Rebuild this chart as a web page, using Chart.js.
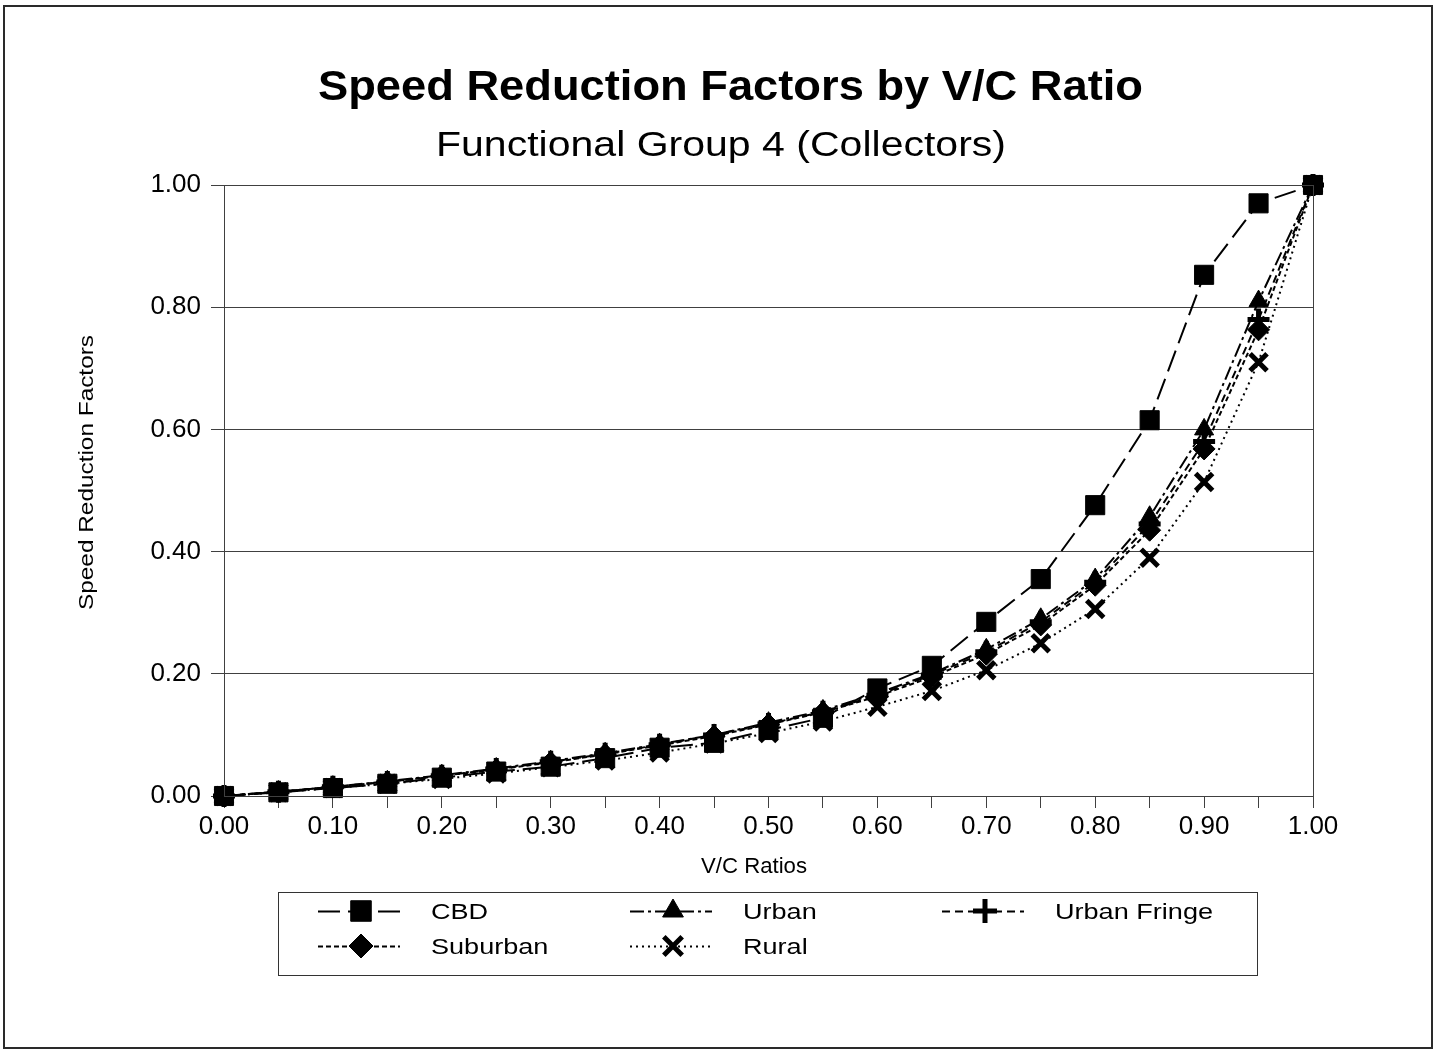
<!DOCTYPE html>
<html>
<head>
<meta charset="utf-8">
<script src="https://cdn.jsdelivr.net/npm/chart.js@4/dist/chart.umd.min.js"></script>
<style>
  html, body { margin: 0; padding: 0; background: #fff; }
  #wrap { width: 1435px; height: 1051px; position: relative; }
</style>
</head>
<body>
<div id="wrap"><canvas id="c" width="1435" height="1051"></canvas></div>
<script>
// ---- data ----
const vcRatios = [0.00, 0.05, 0.10, 0.15, 0.20, 0.25, 0.30, 0.35, 0.40, 0.45, 0.50,
                  0.55, 0.60, 0.65, 0.70, 0.75, 0.80, 0.85, 0.90, 0.95, 1.00];
const cbd         = [0, 0.006, 0.013, 0.020, 0.030, 0.040, 0.048, 0.062, 0.079, 0.087, 0.108,
                     0.128, 0.176, 0.213, 0.285, 0.355, 0.476, 0.615, 0.853, 0.970, 1.000];
const urban       = [0, 0.007, 0.015, 0.024, 0.034, 0.045, 0.057, 0.070, 0.085, 0.100, 0.120,
                     0.140, 0.168, 0.200, 0.240, 0.290, 0.355, 0.457, 0.600, 0.810, 1.000];
const urbanFringe = [0, 0.007, 0.015, 0.023, 0.033, 0.044, 0.056, 0.069, 0.084, 0.100, 0.118,
                     0.138, 0.165, 0.198, 0.236, 0.285, 0.350, 0.445, 0.580, 0.780, 1.000];
const suburban    = [0, 0.007, 0.015, 0.023, 0.033, 0.043, 0.055, 0.068, 0.083, 0.098, 0.117,
                     0.137, 0.163, 0.195, 0.232, 0.280, 0.345, 0.435, 0.568, 0.763, 1.000];
const rural       = [0, 0.006, 0.013, 0.020, 0.028, 0.037, 0.047, 0.058, 0.071, 0.086, 0.103,
                     0.122, 0.146, 0.172, 0.206, 0.250, 0.306, 0.390, 0.514, 0.710, 1.000];
const seriesNames = ['CBD', 'Urban', 'Urban Fringe', 'Suburban', 'Rural'];
const xTickLabels = ['0.00', '0.10', '0.20', '0.30', '0.40', '0.50', '0.60', '0.70', '0.80', '0.90', '1.00'];
const yTickLabels = ['0.00', '0.20', '0.40', '0.60', '0.80', '1.00'];
const titleText = 'Speed Reduction Factors by V/C Ratio';
const subtitleText = 'Functional Group 4 (Collectors)';
const xTitleText = 'V/C Ratios';
const yTitleText = 'Speed Reduction Factors';

// ---- styling ----
const FONT = '"Liberation Sans", Arial, sans-serif';
const styles = [
  { dash: [22, 8],        pointStyle: 'rect',     radius: 13.5, pbw: 1 },
  { dash: [14, 4, 3, 4],  pointStyle: 'triangle', radius: 11,   pbw: 1 },
  { dash: [8, 5],         pointStyle: 'cross',    radius: 11,   pbw: 5 },
  { dash: [5, 3],         pointStyle: 'rectRot',  radius: 11,   pbw: 1 },
  { dash: [2, 4],         pointStyle: 'crossRot', radius: 12,   pbw: 5 }
];
const allSeries = [cbd, urban, urbanFringe, suburban, rural];

const datasets = allSeries.map((vals, i) => ({
  label: seriesNames[i],
  data: vals.map((v, j) => ({ x: vcRatios[j], y: v })),
  borderColor: '#000',
  backgroundColor: '#000',
  borderWidth: 2,
  borderDash: styles[i].dash,
  pointStyle: styles[i].pointStyle,
  pointRadius: styles[i].radius,
  pointBorderWidth: styles[i].pbw,
  pointBackgroundColor: '#000',
  pointBorderColor: '#000',
  tension: 0,
  clip: false
}));

// draw text stretched horizontally to span targetW
function stretchText(ctx, text, x, y, font, targetW) {
  ctx.save();
  ctx.font = font;
  ctx.letterSpacing = '0px';
  const w = ctx.measureText(text).width;
  const sx = targetW / w;
  ctx.translate(x, y);
  ctx.scale(sx, 1);
  ctx.textAlign = 'left';
  ctx.textBaseline = 'alphabetic';
  ctx.fillText(text, 0, 0);
  ctx.restore();
}

const decorPlugin = {
  id: 'decor',
  beforeDraw(chart) {
    const ctx = chart.ctx;
    ctx.save();
    ctx.fillStyle = '#fff';
    ctx.fillRect(0, 0, chart.width, chart.height);
    ctx.restore();
  },
  afterDraw(chart) {
    const ctx = chart.ctx;
    const a = chart.chartArea;
    ctx.save();
    // plot-area frame
    ctx.strokeStyle = '#404040';
    ctx.lineWidth = 1;
    ctx.strokeRect(Math.round(a.left) + 0.5, Math.round(a.top) + 0.5,
                   Math.round(a.right - a.left), Math.round(a.bottom - a.top));
    // outer border
    ctx.strokeStyle = '#2a2a2a';
    ctx.lineWidth = 2;
    ctx.strokeRect(4, 6, 1428, 1042);

    ctx.fillStyle = '#000';
    // titles
    stretchText(ctx, titleText, 318, 100, 'bold 42px ' + FONT, 825);
    stretchText(ctx, subtitleText, 436, 156, '35px ' + FONT, 570);
    // axis titles
    stretchText(ctx, xTitleText, 701, 873, '22px ' + FONT, 106);
    ctx.save();
    ctx.translate(93, 610);
    ctx.rotate(-Math.PI / 2);
    stretchText(ctx, yTitleText, 0, 0, '20px ' + FONT, 275);
    ctx.restore();

    // legend box
    ctx.strokeStyle = '#333';
    ctx.lineWidth = 1;
    ctx.strokeRect(278.5, 892.5, 979, 83);
    const cols = [318, 630, 942];
    const rows = [911, 946];
    const legendFont = '22px ' + FONT;
    ctx.font = legendFont;
    ctx.letterSpacing = '0px';
    const refW = ctx.measureText('Urban Fringe').width;
    const sx = 158 / refW;
    for (let i = 0; i < seriesNames.length; i++) {
      const cx = cols[i % 3];
      const cy = rows[Math.floor(i / 3)];
      const st = styles[i];
      ctx.save();
      ctx.strokeStyle = '#000';
      ctx.lineWidth = 2;
      ctx.setLineDash(st.dash);
      ctx.beginPath();
      ctx.moveTo(cx, cy + 0.5);
      ctx.lineTo(cx + 82, cy + 0.5);
      ctx.stroke();
      ctx.setLineDash([]);
      ctx.fillStyle = '#000';
      ctx.lineWidth = st.pbw;
      Chart.helpers.drawPoint(ctx, {
        pointStyle: st.pointStyle, radius: st.radius + 1, rotation: 0, borderWidth: st.pbw
      }, cx + 43, cy);
      ctx.restore();
      ctx.save();
      ctx.fillStyle = '#000';
      ctx.font = legendFont;
      ctx.translate(cx + 113, cy + 8);
      ctx.scale(sx, 1);
      ctx.textAlign = 'left';
      ctx.textBaseline = 'alphabetic';
      ctx.fillText(seriesNames[i], 0, 0);
      ctx.restore();
    }
    ctx.restore();
  }
};

new Chart(document.getElementById('c'), {
  type: 'line',
  data: { datasets },
  plugins: [decorPlugin],
  options: {
    responsive: false,
    animation: false,
    events: [],
    layout: { padding: { left: 0, top: 185, right: 122, bottom: 0 } },
    plugins: { legend: { display: false }, title: { display: false }, tooltip: { enabled: false } },
    scales: {
      x: {
        type: 'linear',
        min: 0, max: 1,
        afterFit(s) { s.height = 255; },
        ticks: {
          stepSize: 0.05,
          autoSkip: false,
          maxRotation: 0,
          padding: 3,
          color: '#000',
          font: { family: FONT, size: 26 },
          callback: (v, i) => (i % 2 === 0 ? xTickLabels[i / 2] : '')
        },
        grid: { display: true, drawOnChartArea: false, drawTicks: true, tickLength: 12, color: '#404040', lineWidth: 1 },
        border: { display: true, color: '#404040', width: 1 }
      },
      y: {
        type: 'linear',
        min: 0, max: 1,
        afterFit(s) { s.width = 224; },
        ticks: {
          stepSize: 0.2,
          padding: 10,
          color: '#000',
          font: { family: FONT, size: 26 },
          callback: (v, i) => yTickLabels[i]
        },
        grid: { display: true, drawOnChartArea: true, drawTicks: true, tickLength: 13, color: '#404040', lineWidth: 1 },
        border: { display: true, color: '#404040', width: 1 }
      }
    }
  }
});
</script>
</body>
</html>
